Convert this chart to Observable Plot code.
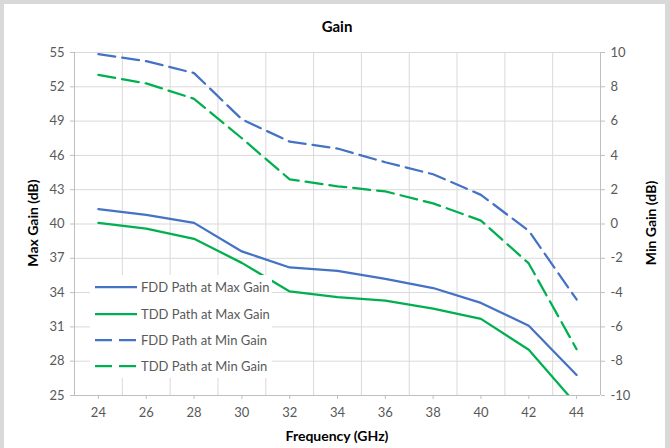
<!DOCTYPE html>
<html>
<head>
<meta charset="utf-8">
<script src="https://cdn.jsdelivr.net/npm/d3@7"></script>
<script src="https://cdn.jsdelivr.net/npm/@observablehq/plot@0.6"></script>
<style>
  html, body { margin: 0; padding: 0; }
  body { width: 670px; height: 448px; background: #d9d9d9; position: relative; overflow: hidden; font-family: Lato, "Open Sans", sans-serif; }
  #card { position: absolute; left: 4px; top: 4px; width: 661px; height: 444px; background: #fff; }
  #title { position: absolute; left: 0; top: 17px; width: 674px; text-align: center; font-weight: bold; font-size: 15px; color: #000; }
  #chart { position: absolute; left: 0; top: 40px; }
  .ylab { position: absolute; font-weight: bold; font-size: 14px; color: #000; white-space: nowrap; }
  #ylabL { left: 32px; top: 223px; transform: translate(-50%, -50%) rotate(-90deg); }
  #ylabR { left: 650px; top: 223px; transform: translate(-50%, -50%) rotate(-90deg); }
  #xlab { position: absolute; left: 0; width: 674px; top: 427px; text-align: center; font-weight: bold; font-size: 14px; color: #000; }
  #legend { position: absolute; left: 90px; top: 275px; width: 182px; height: 103px; background: #fff; }
  .row { position: absolute; left: 0; height: 20px; display: flex; align-items: center; }
  .row svg { margin-left: 5px; }
  .row span { margin-left: 4px; font-size: 13px; color: #595959; white-space: nowrap; }
</style>
</head>
<body>
<div id="card"></div>
<div id="title">Gain</div>
<div id="chart"></div>
<div class="ylab" id="ylabL">Max Gain (dB)</div>
<div class="ylab" id="ylabR">Min Gain (dB)</div>
<div id="xlab">Frequency (GHz)</div>
<div id="legend"></div>
<script>
// ---- data ----
const freq = [24, 26, 28, 30, 32, 34, 36, 38, 40, 42, 44];
// left axis (Max Gain, dB)
const fddMax = [41.3, 40.8, 40.1, 37.6, 36.2, 35.9, 35.2, 34.4, 33.1, 31.1, 26.8];
const tddMax = [40.1, 39.6, 38.7, 36.6, 34.1, 33.6, 33.3, 32.6, 31.7, 29.0, 24.2];
// right axis (Min Gain, dB)
const fddMin = [9.9, 9.5, 8.8, 6.1, 4.8, 4.4, 3.6, 2.9, 1.7, -0.4, -4.4];
const tddMin = [8.7, 8.2, 7.3, 5.0, 2.6, 2.2, 1.9, 1.2, 0.2, -2.3, -7.3];
const seriesNames = ["FDD Path at Max Gain", "TDD Path at Max Gain", "FDD Path at Min Gain", "TDD Path at Min Gain"];
const leftTicks = [25, 28, 31, 34, 37, 40, 43, 46, 49, 52, 55];
const rightTicks = [-10, -8, -6, -4, -2, 0, 2, 4, 6, 8, 10];
const xTicks = [24, 26, 28, 30, 32, 34, 36, 38, 40, 42, 44];
const xGrid = [25, 27, 29, 31, 33, 35, 37, 39, 41, 43];

const blue = "#4472C4", green = "#00B050";
const gridColor = "#d9d9d9", axisColor = "#bfbfbf", textColor = "#595959";

// map right axis (min gain) onto left scale: left = right*1.5 + 40
const toLeft = v => v * 1.5 + 40;
const toRight = v => Math.round((v - 40) / 1.5);

const mk = (vals, conv) => freq.map((f, i) => ({f, v: conv ? conv(vals[i]) : vals[i]}));

const lineOpts = (stroke, dashed) => ({
  x: "f", y: "v", stroke, strokeWidth: 2.25, curve: "linear", strokeLinejoin: "round",
  strokeDasharray: dashed ? "17,7" : null, clip: true
});

const chart = Plot.plot({
  width: 670, height: 408,
  marginLeft: 74, marginRight: 70, marginTop: 12, marginBottom: 53,
  x: {domain: [23, 45]},
  y: {domain: [25, 55]},
  style: {fontFamily: "Lato, sans-serif", fontSize: "13px", color: textColor, background: "transparent", overflow: "visible"},
  marks: [
    Plot.gridY(leftTicks, {stroke: gridColor, strokeOpacity: 1, strokeWidth: 1}),
    Plot.gridX(xGrid, {stroke: gridColor, strokeOpacity: 1, strokeWidth: 1}),
    Plot.ruleX([23, 45], {stroke: axisColor, strokeWidth: 1}),
    Plot.ruleY([25], {stroke: axisColor, strokeWidth: 1}),
    Plot.axisY(leftTicks, {anchor: "left", tickSize: 4, tickPadding: 6, stroke: axisColor, fill: textColor, label: null, fontSize: 13}),
    Plot.axisY(leftTicks, {anchor: "right", tickSize: 4, tickPadding: 6, stroke: axisColor, fill: textColor, label: null, fontSize: 13,
      tickFormat: d => String(toRight(d))}),
    Plot.axisX(xTicks, {anchor: "bottom", tickSize: 4, tickPadding: 8, stroke: axisColor, fill: textColor, label: null, fontSize: 13}),
    Plot.line(mk(fddMin, toLeft), lineOpts(blue, true)),
    Plot.line(mk(tddMin, toLeft), lineOpts(green, true)),
    Plot.line(mk(fddMax), lineOpts(blue, false)),
    Plot.line(mk(tddMax), lineOpts(green, false))
  ]
});
document.getElementById("chart").appendChild(chart);

// legend
const legend = document.getElementById("legend");
const legColors = [blue, green, blue, green];
const legDash = [false, false, true, true];
const rowTops = [2, 29, 55, 81];
seriesNames.forEach((name, i) => {
  const row = document.createElement("div");
  row.className = "row";
  row.style.top = rowTops[i] + "px";
  row.innerHTML = `<svg width="42" height="6"><line x1="0" x2="42" y1="3" y2="3" stroke="${legColors[i]}" stroke-width="2.25" ${legDash[i] ? 'stroke-dasharray="17,7"' : ''}/></svg><span>${name}</span>`;
  legend.appendChild(row);
});
</script>
</body>
</html>
